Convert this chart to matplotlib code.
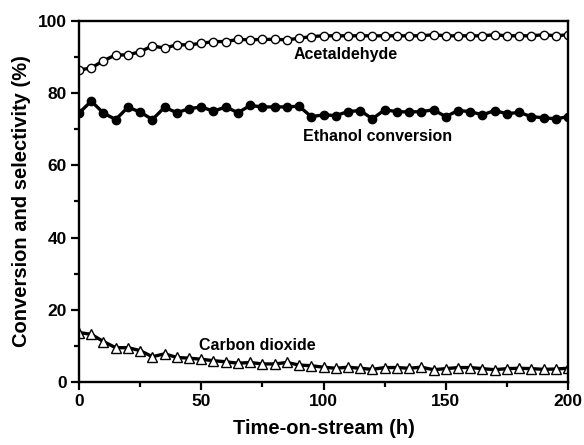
import matplotlib
matplotlib.use('Agg')
import matplotlib.pyplot as plt
import numpy as np
from matplotlib.ticker import MultipleLocator

plt.rcParams['font.family'] = ['Liberation Sans', 'DejaVu Sans']
plt.rcParams['font.weight'] = 'bold'

# time on stream (h), one point every 5 h
hours = list(range(0, 201, 5))

acetaldehyde = [86.4, 87.0, 89.0, 90.6, 90.6, 91.5, 93.1, 92.5, 93.4, 93.4,
                93.8, 94.3, 94.3, 94.9, 94.8, 94.9, 94.9, 94.8, 95.2, 95.7,
                95.9, 95.9, 95.9, 95.9, 95.9, 95.9, 95.9, 95.9, 95.9, 96.2,
                95.9, 95.9, 95.9, 95.9, 96.2, 95.9, 95.9, 95.9, 96.2, 95.9,
                96.2]

ethanol = [74.5, 77.8, 74.5, 72.7, 76.1, 74.8, 72.7, 76.1, 74.6, 75.7,
           76.2, 75.0, 76.2, 74.6, 76.6, 76.2, 76.2, 76.2, 76.4, 73.5,
           74.0, 73.8, 74.9, 75.2, 72.9, 75.4, 74.9, 74.8, 74.9, 75.4,
           73.5, 75.2, 74.9, 74.0, 75.2, 74.3, 74.7, 73.5, 73.2, 72.9,
           73.5]

co2 = [13.7, 13.2, 11.2, 9.5, 9.5, 8.7, 7.0, 7.8, 6.8, 6.6,
       6.3, 5.9, 5.6, 5.2, 5.4, 5.0, 5.0, 5.4, 4.7, 4.5,
       4.1, 3.8, 4.1, 3.8, 3.5, 4.0, 4.0, 3.8, 4.1, 3.4,
       3.7, 4.0, 4.0, 3.7, 3.4, 3.7, 3.8, 3.7, 3.5, 3.6,
       3.8]

fig = plt.figure(figsize=(5.84, 4.45), dpi=100)
ax = fig.add_axes([0.1353, 0.1416, 0.8373, 0.8112])

ax.plot(hours, acetaldehyde, '-o', color='black', lw=2.4, ms=6,
        mfc='white', mec='black', mew=1.0)
ax.plot(hours, ethanol, '-o', color='black', lw=2.4, ms=6,
        mfc='black', mec='black', mew=1.0)
ax.plot(hours, co2, '-^', color='black', lw=2.4, ms=7,
        mfc='white', mec='black', mew=1.0)

ax.text(109, 90.6, 'Acetaldehyde', ha='center', va='center', fontsize=11.5, fontweight='bold')
ax.text(122, 68.0, 'Ethanol conversion', ha='center', va='center', fontsize=11.5, fontweight='bold')
ax.text(73, 10.2, 'Carbon dioxide', ha='center', va='center', fontsize=11.5, fontweight='bold')

ax.set_xlim(0, 200)
ax.set_ylim(0, 100)
ax.xaxis.set_major_locator(MultipleLocator(50))
ax.xaxis.set_minor_locator(MultipleLocator(25))
ax.yaxis.set_major_locator(MultipleLocator(20))
ax.yaxis.set_minor_locator(MultipleLocator(10))

for s in ax.spines.values():
    s.set_linewidth(1.7)
ax.tick_params(which='major', direction='out', length=5.8, width=1.6, labelsize=12.5, pad=3)
ax.tick_params(which='minor', direction='out', length=3.3, width=1.6)
for lab in ax.get_xticklabels() + ax.get_yticklabels():
    lab.set_fontweight('bold')

ax.set_xlabel('Time-on-stream (h)', fontsize=14.5, fontweight='bold', labelpad=7)
ax.set_ylabel('Conversion and selectivity (%)', fontsize=14.5, fontweight='bold', labelpad=5)

fig.savefig('out.png', dpi=100)
